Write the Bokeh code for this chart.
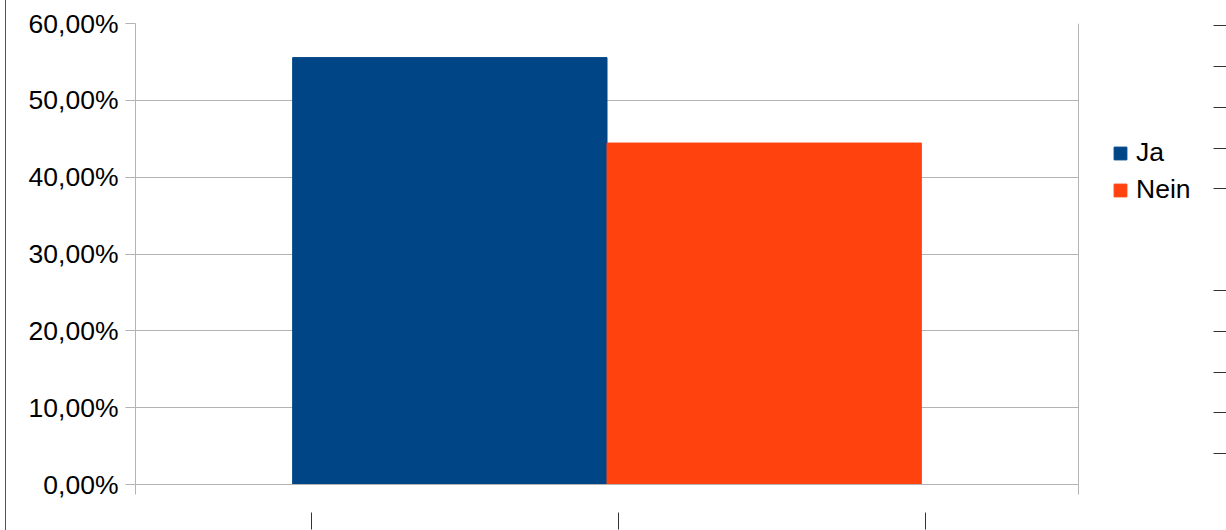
from bokeh.plotting import figure
from bokeh.layouts import row
from bokeh.models import (Range1d, LinearAxis, FixedTicker, Legend, LegendItem,
                          CustomJSTickFormatter, Div)
from bokeh.embed import file_html
from bokeh.resources import INLINE

# ---- data ----
series = ["Ja", "Nein"]
values = [55.56, 44.44]          # percent
colors = ["#004586", "#ff420e"]
y_ticks = [0, 10, 20, 30, 40, 50, 60]
y_labels = ["0,00%", "10,00%", "20,00%", "30,00%", "40,00%", "50,00%", "60,00%"]

FONT = "Liberation Sans"
GRID = "#b3b3b3"
BLANK = CustomJSTickFormatter(code="return ''")

# layout (canvas pixels of the page)
PLOT_L, PLOT_R, PLOT_T, PLOT_B = 135, 1078, 23, 484
PAGE_W = 1226
x_end = 1 + (PAGE_W - PLOT_R) / (PLOT_R - PLOT_L)   # frame continues to the page edge

p = figure(width=PAGE_W - 6, height=530, output_backend="svg", toolbar_location=None,
           x_range=Range1d(0, x_end), y_range=Range1d(0, 60),
           x_axis_location=None, y_axis_location=None,
           min_border_left=PLOT_L - 6, min_border_right=0,
           min_border_top=PLOT_T, min_border_bottom=530 - PLOT_B)
p.outline_line_color = None
p.background_fill_color = "white"
p.border_fill_color = "white"

# bars: one category, two series, gap width 100% -> group occupies 2/3
n = len(series)
group = 2.0 / 3.0
w = group / n
renderers = []
for i, (s, v, c) in enumerate(zip(series, values, colors)):
    xc = 0.5 - group / 2 + w * (i + 0.5)
    r = p.vbar(x=[xc], top=[v], bottom=0, width=w, fill_color=c, line_color=c)
    renderers.append(r)

# grid: horizontal value lines + category boundaries
p.xgrid.ticker = FixedTicker(ticks=[0, 1])
p.xgrid.grid_line_color = GRID
p.ygrid.ticker = FixedTicker(ticks=y_ticks)
p.ygrid.grid_line_color = GRID
p.ygrid.cross_bounds = (0, 1)

# y axis
yaxis = LinearAxis(ticker=FixedTicker(ticks=y_ticks),
                   major_label_overrides=dict(zip(y_ticks, y_labels)),
                   axis_line_color=GRID, major_tick_line_color=GRID,
                   major_tick_out=10, major_tick_in=0,
                   minor_tick_line_color=None, major_label_standoff=7,
                   major_label_text_font=FONT, major_label_text_font_size="26.5px",
                   major_label_text_color="#000000")
p.add_layout(yaxis, "left")

# bottom (category) axis with boundary ticks and extra marks
p.extra_x_ranges = {"px": Range1d(PLOT_L, PAGE_W)}
xaxis = LinearAxis(x_range_name="px", bounds=(PLOT_L, PLOT_R),
                   ticker=FixedTicker(ticks=[PLOT_L, PLOT_R], minor_ticks=[311, 618, 925]),
                   formatter=BLANK,
                   axis_line_color=GRID, major_tick_line_color=GRID,
                   major_tick_out=10, major_tick_in=0,
                   minor_tick_in=-28, minor_tick_out=45,
                   minor_tick_line_color="#333333", major_label_standoff=0)
p.add_layout(xaxis, "below")

# right-edge marks
p.extra_y_ranges = {"px": Range1d(PLOT_B, PLOT_T)}
raxis = LinearAxis(y_range_name="px",
                   ticker=FixedTicker(ticks=[25, 66, 107, 148, 188, 290, 331, 372, 412, 453]),
                   formatter=BLANK,
                   axis_line_color=None, major_tick_line_color="#333333",
                   major_tick_in=13, major_tick_out=0,
                   minor_tick_line_color=None, major_label_standoff=0)
p.add_layout(raxis, "right")

# legend (inside the frame's extension to the right of the plot area)
legend = Legend(items=[LegendItem(label=s, renderers=[r]) for s, r in zip(series, renderers)],
                location=(1112 - PLOT_L, 279), glyph_width=16, glyph_height=16,
                label_text_font=FONT, label_text_font_size="26.5px",
                label_text_color="#000000", label_standoff=8, spacing=6,
                padding=0, margin=0, border_line_color=None,
                background_fill_alpha=0)
p.add_layout(legend)

# left page border
border = Div(width=1, height=530, margin=(0, 0, 0, 5),
             styles={"background-color": "#555555"})
layout = row(border, p, spacing=0)

open("out.html", "w").write(file_html(layout, INLINE))
